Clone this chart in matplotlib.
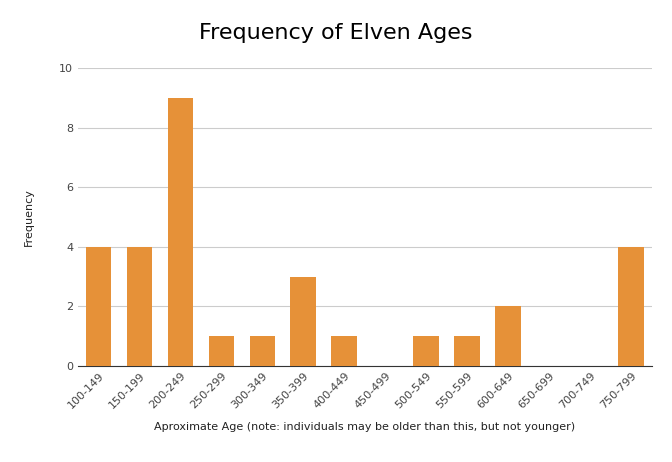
import matplotlib.pyplot as plt
import numpy as np

categories = ['100-149', '150-199', '200-249', '250-299', '300-349', '350-399', '400-449',
              '450-499', '500-549', '550-599', '600-649', '650-699', '700-749', '750-799']
counts = [4, 4, 9, 1, 1, 3, 1, 0, 1, 1, 2, 0, 0, 4]

fig = plt.figure(figsize=(6.72, 4.62), dpi=100)
ax = fig.add_axes([0.116, 0.208, 0.854, 0.645])

x = np.arange(len(categories))
ax.bar(x, counts, width=0.63, color='#E69138', zorder=3)

ax.set_xlim(-0.5, len(categories) - 0.5)
ax.set_ylim(0, 10)
ax.set_yticks([0, 2, 4, 6, 8, 10])
ax.grid(axis='y', color='#cccccc', linewidth=0.8, zorder=0)
for s in ['top', 'right', 'left']:
    ax.spines[s].set_visible(False)
ax.spines['bottom'].set_color('#333333')
ax.tick_params(length=0, labelsize=8, colors='#444444')
ax.set_xticks(x)
ax.set_xticklabels(categories, rotation=45, ha='right', rotation_mode='anchor')

ax.set_ylabel('Frequency', fontsize=8, color='#222222', labelpad=18)
ax.set_xlabel('Aproximate Age (note: individuals may be older than this, but not younger)',
              fontsize=8, color='#222222', labelpad=8)
fig.suptitle('Frequency of Elven Ages', fontsize=16, y=0.95)

fig.savefig('out.png')
